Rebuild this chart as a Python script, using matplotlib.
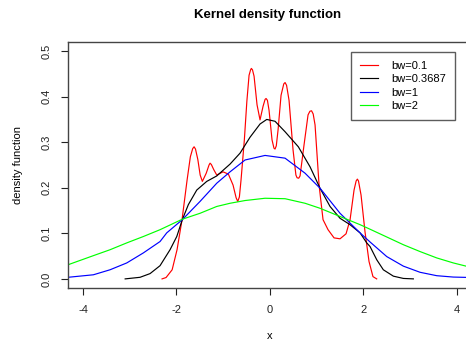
import matplotlib
matplotlib.use("Agg")
import matplotlib.pyplot as plt

plt.rcParams['font.family'] = ['Liberation Sans', 'DejaVu Sans']

# curves (x, density)
red_x = [-2.306, -2.22, -2.09, -1.985, -1.878, -1.77, -1.70, -1.65, -1.62, -1.59,
         -1.54, -1.49, -1.443, -1.36, -1.30, -1.278, -1.25, -1.2, -1.135, -1.0,
         -0.886, -0.786, -0.72, -0.685, -0.65, -0.615, -0.544, -0.49, -0.443, -0.41,
         -0.394, -0.37, -0.336, -0.272, -0.208, -0.143, -0.10, -0.079, -0.05, -0.015,
         0.049, 0.09, 0.113, 0.14, 0.178, 0.242, 0.30, 0.328, 0.36, 0.413,
         0.499, 0.56, 0.585, 0.62, 0.649, 0.734, 0.820, 0.86, 0.895, 0.93,
         0.970, 1.056, 1.141, 1.248, 1.377, 1.505, 1.634, 1.72, 1.805, 1.85,
         1.876, 1.90, 1.955, 2.04, 2.126, 2.21, 2.29]
red_y = [0.0, 0.003, 0.02, 0.064, 0.130, 0.217, 0.268, 0.286, 0.290, 0.285,
         0.262, 0.228, 0.214, 0.232, 0.250, 0.254, 0.251, 0.240, 0.228, 0.235,
         0.230, 0.206, 0.178, 0.170, 0.180, 0.217, 0.305, 0.390, 0.447, 0.459,
         0.462, 0.459, 0.445, 0.382, 0.349, 0.379, 0.394, 0.396, 0.392, 0.370,
         0.305, 0.287, 0.285, 0.292, 0.327, 0.403, 0.428, 0.431, 0.425, 0.392,
         0.283, 0.228, 0.222, 0.221, 0.226, 0.294, 0.360, 0.368, 0.369, 0.362,
         0.338, 0.206, 0.130, 0.108, 0.090, 0.088, 0.099, 0.130, 0.195, 0.215,
         0.219, 0.215, 0.184, 0.103, 0.038, 0.005, 0.0]

black_x = [-3.096, -2.777, -2.563, -2.349, -2.135, -1.991, -1.872, -1.743, -1.563, -1.349,
           -1.135, -0.850, -0.636, -0.422, -0.208, -0.064, 0.113, 0.328, 0.612, 0.863,
           1.077, 1.291, 1.505, 1.719, 1.934, 2.077, 2.148, 2.291, 2.432, 2.647,
           2.861, 3.075]
black_y = [0.0, 0.0035, 0.0116, 0.029, 0.064, 0.093, 0.130, 0.163, 0.195, 0.214,
           0.226, 0.252, 0.276, 0.311, 0.340, 0.350, 0.346, 0.323, 0.290, 0.246,
           0.199, 0.159, 0.133, 0.119, 0.101, 0.079, 0.071, 0.042, 0.020, 0.006,
           0.001, 0.0]

blue_x = [-4.32, -3.777, -3.420, -3.062, -2.707, -2.349, -2.206, -1.872, -1.493, -1.135,
          -0.850, -0.529, -0.101, 0.328, 0.756, 1.077, 1.505, 1.934, 2.148, 2.505,
          2.861, 3.218, 3.576, 3.931, 4.32]
blue_y = [0.0035, 0.009, 0.020, 0.035, 0.057, 0.082, 0.101, 0.130, 0.170, 0.210,
          0.235, 0.261, 0.271, 0.265, 0.232, 0.199, 0.144, 0.101, 0.081, 0.049,
          0.028, 0.0145, 0.007, 0.004, 0.003]

green_x = [-4.32, -3.777, -3.420, -3.062, -2.707, -2.349, -1.872, -1.493, -1.135, -0.850,
           -0.529, -0.101, 0.328, 0.756, 1.077, 1.505, 1.934, 2.148, 2.505, 2.861,
           3.218, 3.576, 3.931, 4.32]
green_y = [0.031, 0.051, 0.064, 0.079, 0.093, 0.108, 0.131, 0.144, 0.159, 0.166,
           0.172, 0.177, 0.176, 0.166, 0.155, 0.137, 0.119, 0.109, 0.092, 0.075,
           0.060, 0.046, 0.035, 0.025]

labels = ["bw=0.1", "bw=0.3687", "bw=1", "bw=2"]
colors = ["#FF0000", "#000000", "#0000FF", "#00FF00"]

fig = plt.figure(figsize=(4.66, 3.45), dpi=100)
ax = fig.add_axes([68/466, 1-288/345, (471.5-68)/466, (288-42)/345])

curves = [(red_x, red_y), (black_x, black_y), (blue_x, blue_y), (green_x, green_y)]
for (xs, ys), c, lab in zip(curves, colors, labels):
    ax.plot(xs, ys, color=c, lw=0.85, label=lab)

ax.set_xlim(-4.32, 4.32)
ax.set_ylim(-0.02, 0.52)
ax.set_xticks([-4, -2, 0, 2, 4])
ax.set_xticklabels(["-4", "-2", "0", "2", "4"])
ax.set_yticks([0.0, 0.1, 0.2, 0.3, 0.4, 0.5])
ax.set_yticklabels(["0.0", "0.1", "0.2", "0.3", "0.4", "0.5"], rotation=90, va='center')
ax.tick_params(direction='out', length=5, width=0.8, labelsize=8, pad=7, colors='#222222')
for s in ax.spines.values():
    s.set_color('#444444')
    s.set_linewidth(1.0)

ax.set_xlabel("x", fontsize=8, labelpad=12)
ax.set_ylabel("density function", fontsize=8, labelpad=13)
fig.text(268/466, 1-15/345, "Kernel density function", ha='center', va='center',
         fontsize=9.5, fontweight='bold')

leg = ax.legend(loc='upper right', bbox_to_anchor=(455/466, 1-52/345),
                bbox_transform=fig.transFigure, fontsize=8, frameon=True,
                fancybox=False, handlelength=1.6, handletextpad=1.2,
                labelspacing=0.3, borderpad=0.8, borderaxespad=0)
leg.get_frame().set_edgecolor('#333333')
leg.get_frame().set_linewidth(1.0)

fig.savefig("out.png", dpi=100)
